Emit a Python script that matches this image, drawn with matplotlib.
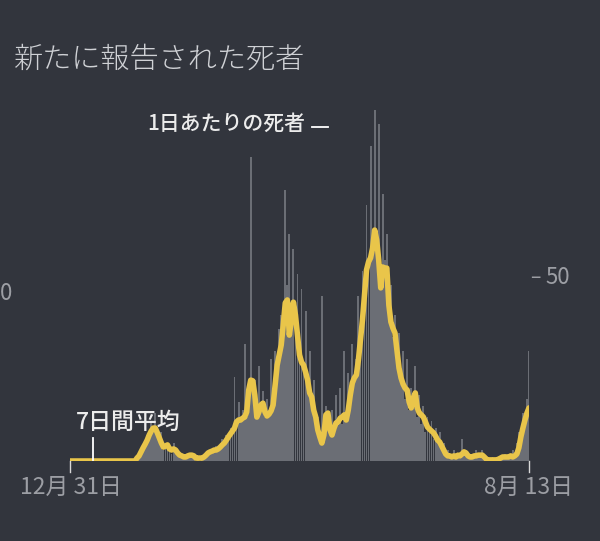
import numpy as np
import pandas as pd
import matplotlib
matplotlib.use('Agg')
import matplotlib.pyplot as plt

plt.rcParams['font.family'] = ['Noto Sans CJK JP', 'DejaVu Sans']

# days from 12/31 to 8/13
dates = pd.date_range('2019-12-31', '2020-08-13', freq='D')

# daily reported deaths (grey bars)
daily = [0] * 33 + [
    1, 1, 3, 4, 4, 7, 6, 11, 9, 13, 8, 6, 8, 3, 5, 4, 4, 2, 5, 3,
    2, 1, 2, 1, 1, 2, 2, 1, 2, 0, 1, 0, 1, 1, 2, 2, 3, 2, 3, 4,
    3, 4, 6, 4, 7, 6, 9, 7, 23, 10, 16, 11, 14, 32, 12, 18, 83, 20, 22, 12,
    26, 15, 19, 12, 17, 13, 28, 16, 30, 25, 36, 40, 38, 74, 48, 62, 36, 58, 40, 51,
    30, 47, 25, 41, 22, 30, 16, 22, 11, 12, 5, 45, 7, 15, 13, 9, 14, 9, 18, 11,
    20, 10, 30, 12, 24, 18, 32, 22, 28, 45, 34, 52, 45, 70, 52, 86, 62, 96, 60, 92,
    48, 73, 55, 62, 42, 48, 34, 40, 27, 35, 21, 30, 17, 28, 14, 20, 17, 26, 12, 18,
    10, 15, 8, 12, 8, 11, 6, 9, 5, 8, 3, 5, 2, 3, 1, 2, 3, 1, 2, 1,
    6, 2, 3, 1, 1, 2, 1, 3, 1, 2, 3, 1, 1, 0, 0, 1, 0, 0, 1, 1,
    1, 2, 1, 2, 1, 3, 1, 5, 8, 7, 13, 10, 17, 30,
]

# 7-day average (yellow line)
avg7 = [0] * 33 + [
    0.8, 1.4, 2.5, 3.6, 4.6, 5.7, 7.1, 8.2, 9.0, 9.0, 7.7, 6.3, 4.9, 3.8, 4.1, 4.4, 3.3, 3.0, 3.3, 3.0,
    2.2, 1.6, 1.4, 1.1, 1.1, 1.4, 1.6, 1.6, 1.4, 0.8, 0.8, 0.8, 0.8, 1.1, 1.6, 2.2, 2.5, 2.7, 3.0, 3.0,
    3.3, 3.8, 4.4, 4.9, 5.7, 6.6, 7.4, 8.2, 9.0, 10.7, 11.2, 11.2, 11.7, 12.0, 13.4, 19.4, 22.1, 21.9, 18.0, 12.0,
    13.4, 15.3, 15.8, 13.4, 12.3, 12.8, 13.7, 15.3, 20.8, 26.2, 29.0, 31.7, 37.2, 43.2, 44.0, 34.4, 38.5, 43.4, 39.9, 34.4,
    29.0, 27.0, 26.2, 24.3, 22.1, 18.6, 17.5, 13.9, 12.0, 8.5, 6.6, 4.9, 7.1, 12.6, 13.1, 8.5, 7.1, 9.0, 10.4, 10.7,
    11.7, 12.0, 12.6, 11.2, 13.9, 18.0, 21.3, 22.7, 23.5, 27.6, 33.1, 38.5, 45.4, 52.2, 54.4, 55.5, 58.2, 63.1, 60.4, 54.9,
    47.3, 53.0, 52.7, 52.7, 42.6, 38.0, 36.3, 35.0, 30.3, 25.4, 22.7, 21.0, 19.9, 19.4, 16.1, 14.5, 17.2, 18.6, 14.5, 13.1,
    12.6, 12.0, 10.7, 9.3, 8.7, 8.2, 7.7, 6.8, 5.7, 5.2, 4.1, 3.0, 1.9, 1.4, 1.4, 1.1, 1.4, 1.1, 1.6, 1.4,
    1.9, 2.5, 2.2, 1.4, 1.1, 1.1, 1.4, 1.4, 1.6, 1.6, 1.6, 1.1, 0.5, 0.3, 0.3, 0.3, 0.3, 0.3, 0.5, 0.8,
    1.1, 1.1, 1.1, 1.1, 1.4, 1.1, 1.4, 1.9, 3.6, 6.6, 9.0, 11.2, 13.1, 14.5,
]

title = '新たに報告された死者'
label_daily = '1日あたりの死者'
label_avg = '7日間平均'
first_label = '12月 31日'
last_label = '8月 13日'

BG = '#32353d'
BAR = '#6b6e75'
LINE = '#e9c54a'
TXT = '#cfd1d5'
AXIS_TXT = '#9c9ea4'

W, H = 600, 541


def fx(px):
    return px / W


def fy(py):
    return 1 - py / H


fig = plt.figure(figsize=(6, 5.41), dpi=100, facecolor=BG)
ax = fig.add_axes([fx(70), fy(461), (529 - 70) / W, (461 - 100) / H])
ax.set_facecolor(BG)

x = np.arange(len(dates))
ax.bar(x, daily, width=0.92, color=BAR, linewidth=0, zorder=1)
ax.plot(x, avg7, color=LINE, lw=4.0, solid_joinstyle='round',
        solid_capstyle='round', zorder=3)

ax.set_xlim(0, len(dates) - 1)
ax.set_ylim(0, (461 - 100) / 3.66)
for s in ax.spines.values():
    s.set_visible(False)
ax.set_xticks([])
ax.set_yticks([])

# x ticks and labels
ax.plot([0, 0], [0, -3.0], color='#d8d8d8', lw=1, clip_on=False)
ax.plot([len(dates) - 1] * 2, [0, -3.0], color='#d8d8d8', lw=1, clip_on=False)
fig.text(fx(71), fy(487), first_label, ha='center', va='center',
         fontsize=16.5, color=AXIS_TXT)
fig.text(fx(529), fy(487), last_label, ha='center', va='center',
         fontsize=16.5, color=AXIS_TXT)

# y labels
fig.text(fx(530), fy(278), '–', ha='left', va='center', fontsize=14, color=AXIS_TXT)
fig.text(fx(545), fy(278), '50', ha='left', va='center', fontsize=16, color=AXIS_TXT)
fig.text(fx(0), fy(293), '0', ha='left', va='center', fontsize=16, color=AXIS_TXT)

# title
fig.text(fx(14), fy(59), title, ha='left', va='center', fontsize=21,
         color=TXT, fontweight='light')

# annotations
fig.text(fx(305), fy(124), label_daily, ha='right', va='center', fontsize=15,
         color='#ececec', fontweight='medium')
fig.add_artist(plt.Line2D([fx(312), fx(328)], [fy(127), fy(127)],
                          color='white', lw=1.3))
fig.text(fx(76), fy(422), label_avg, ha='left', va='center', fontsize=16.5,
         color='#ececec', fontweight='medium')
fig.add_artist(plt.Line2D([fx(93), fx(93)], [fy(438), fy(460)],
                          color='white', lw=1.3))

fig.savefig('out.png', dpi=100, facecolor=BG)
